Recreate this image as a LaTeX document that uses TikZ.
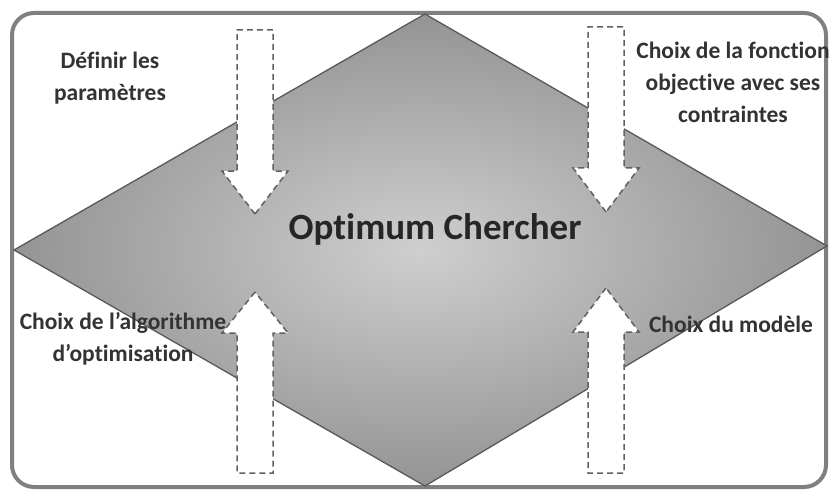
\documentclass[tikz,border=0pt]{standalone}
\usepackage{fontspec}
\setmainfont[Ligatures=NoCommon]{Carlito}
\begin{document}
\begin{tikzpicture}[x=1pt,y=-1pt,
  frame/.style={draw=black!50,line width=4pt,rounded corners=22pt},
  diam/.style={draw=black!65,line width=1.3pt,inner color=black!19,outer color=black!42},
  blockarrow/.style={fill=white,draw=black!62,line width=1.5pt,dash pattern=on 6pt off 4pt,line join=miter},
  lbl/.style={font=\bfseries\fontsize{23.5}{32}\selectfont,text=black!80,align=center,inner sep=0pt},
  title/.style={font=\bfseries\fontsize{37}{40}\selectfont,text=black!85,inner sep=0pt}]
\useasboundingbox (0,0) rectangle (830,492);
\fill[white] (0,0) rectangle (830,492);
% outer frame
\draw[frame] (12,13) rectangle (826,487);
% diamond
\coordinate (dt) at (425,14);
\coordinate (dr) at (827,246);
\coordinate (db) at (425,486);
\coordinate (dl) at (14,250);
\path[diam] (dt) -- (dr) -- (db) -- (dl) -- cycle;
% arrows pointing down
\coordinate (tl) at (255,214);
\coordinate (tr) at (606,212);
\draw[blockarrow] (tl) -- ++(-33,-43) -- ++(15,0) -- ++(0,-141) -- ++(36,0) -- ++(0,141) -- ++(15,0) -- cycle;
\draw[blockarrow] (tr) -- ++(-33,-44) -- ++(15,0) -- ++(0,-141) -- ++(36,0) -- ++(0,141) -- ++(15,0) -- cycle;
% arrows pointing up
\coordinate (bl) at (255,292);
\coordinate (br) at (606,288);
\draw[blockarrow] (bl) -- ++(-33,41) -- ++(15,0) -- ++(0,140) -- ++(36,0) -- ++(0,-140) -- ++(15,0) -- cycle;
\draw[blockarrow] (br) -- ++(-33,44) -- ++(15,0) -- ++(0,141) -- ++(36,0) -- ++(0,-141) -- ++(15,0) -- cycle;
% texts
\node[title] (t) at (435,229) {Optimum Chercher};
\node[lbl] (a) at (110,78) {Définir les\\paramètres};
\node[lbl] (b) at (733,82) {Choix de la fonction\\objective avec ses\\contraintes};
\node[lbl] (c) at (123,339) {Choix de l’algorithme\\d’optimisation};
\node[lbl] (d) at (731,324) {Choix du modèle};
\end{tikzpicture}
\end{document}
